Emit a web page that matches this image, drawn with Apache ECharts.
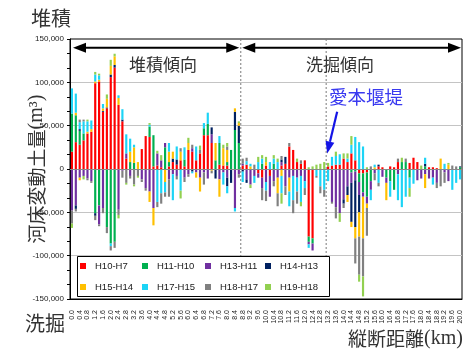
<!DOCTYPE html>
<html>
<head>
<meta charset="utf-8">
<script src="https://cdn.jsdelivr.net/npm/echarts@6/dist/echarts.min.js"></script>
<style>
html,body{margin:0;padding:0;background:#fff}
#chart{width:465px;height:349px}
</style>
</head>
<body>
<div id="chart"></div>
<script>
// 縦断距離 (km), 0.2 km pitch
const distanceKm = ('0.0 0.2 0.4 0.6 0.8 1.0 1.2 1.4 1.6 1.8 2.0 2.2 2.4 2.6 2.8 3.0 3.2 3.4 3.6 3.8 ' +
  '4.0 4.2 4.4 4.6 4.8 5.0 5.2 5.4 5.6 5.8 6.0 6.2 6.4 6.6 6.8 7.0 7.2 7.4 7.6 7.8 ' +
  '8.0 8.2 8.4 8.6 8.8 9.0 9.2 9.4 9.6 9.8 10.0 10.2 10.4 10.6 10.8 11.0 11.2 11.4 11.6 11.8 ' +
  '12.0 12.2 12.4 12.6 12.8 13.0 13.2 13.4 13.6 13.8 14.0 14.2 14.4 14.6 14.8 15.0 15.2 15.4 15.6 15.8 ' +
  '16.0 16.2 16.4 16.6 16.8 17.0 17.2 17.4 17.6 17.8 18.0 18.2 18.4 18.6 18.8 19.0 19.2 19.4 19.6 19.8 20.0').split(' ');

const seriesNames = ['H10-H7', 'H11-H10', 'H13-H11', 'H14-H13', 'H15-H14', 'H17-H15', 'H18-H17', 'H19-H18'];
const seriesColors = ['#ff0000', '#00b050', '#7030a0', '#002060', '#ffc000', '#1cd4f6', '#808080', '#92d050'];

// 河床変動土量 (m3) per period
const h10_h7 = [20000,31000,28000,33000,41000,43000,99000,101000,66000,70000,106000,117000,74000,55000,12000,0,0,0,23000,38000,
  37000,3000,4000,2000,0,3000,8000,5000,10000,3000,22000,20000,10000,18000,39000,39000,30000,0,5000,4000,
  4000,0,0,0,4000,5000,0,0,-5000,-10000,4000,-8000,0,0,4000,6000,26000,22000,8000,6000,
  10000,-78000,-80000,0,0,0,3000,4000,5000,5000,12000,8000,18000,10000,-5000,-5000,-4000,0,0,3000,
  2000,0,3000,2000,8000,0,0,7000,13000,8000,0,0,2000,2000,1000,0,0,0,0,0,0];
const h11_h10 = [44000,31000,16000,8000,0,0,-51000,-42000,0,-67000,-86000,-84000,0,0,0,8000,7000,0,0,0,
  12000,36000,0,0,25000,5000,0,0,0,8000,0,0,0,0,8000,13000,0,10000,25000,0,
  4000,22000,45000,30000,0,0,0,0,0,6000,0,0,6000,0,0,0,0,0,0,0,
  0,-6000,-6000,0,0,0,0,0,0,0,0,0,-4000,-3000,-10000,-22000,-28000,-14000,0,0,
  0,-10000,-14000,-24000,0,8000,8000,-10000,0,0,0,3000,0,0,0,0,0,0,0,0,2000];
const h13_h11 = [-48000,-42000,-10000,-8000,-11000,-14000,0,-22000,-45000,0,0,0,-47000,-2000,6000,-8000,0,0,-12000,-22000,
  -26000,-45000,14000,8000,5000,-12000,-6000,-8000,0,-10000,-6000,4000,-4000,-10000,-4000,-11000,10000,0,-12000,-4000,
  -10000,0,-45000,-6000,2000,-12000,-18000,-8000,-5000,-12000,-15000,-24000,-14000,-10000,4000,-20000,-10000,-8000,-10000,-8000,
  -14000,-3000,-8000,0,0,0,0,-38000,-44000,-51000,-35000,-20000,-12000,-10000,-15000,-5000,-8000,-10000,-5000,0,
  -9000,-6000,0,0,-6000,0,0,0,0,-13000,-11000,-6000,-11000,-10000,-16000,0,-4000,-14000,0,0,0];
const h14_h13 = [0,-4000,2000,0,0,0,-3000,0,1000,1000,3000,3000,0,2000,0,0,0,0,0,0,
  0,0,0,0,0,0,4000,6000,0,0,0,-3000,0,0,0,0,8000,-11000,0,0,
  -10000,-16000,21000,20000,-3000,-4000,0,0,0,0,0,0,0,0,3000,8000,0,0,0,0,
  0,0,0,0,0,0,0,0,0,0,-5000,-10000,-45000,-54000,-20000,0,0,0,0,2000,
  0,0,0,0,0,0,0,0,0,0,0,3000,0,0,0,0,0,0,0,0,1000];
const h15_h14 = [0,3000,-3000,0,2000,3000,2000,2000,3000,10000,10000,10000,8000,0,0,12000,18000,8000,0,0,
  -12000,-20000,0,0,-15000,12000,8000,0,10000,0,8000,0,-6000,-16000,0,0,-2000,20000,-20000,20000,
  14000,0,4000,3000,0,0,3000,0,0,0,4000,0,0,-18000,-8000,0,-16000,0,0,0,
  0,0,0,0,0,0,0,0,0,0,0,-8000,-6000,-13000,-28000,-48000,-5000,0,2000,0,
  0,-20000,0,0,0,0,0,0,0,0,0,-16000,0,0,0,12000,0,5000,0,0,0];
const h17_h15 = [29000,22000,8000,14000,12000,10000,8000,5000,5000,0,-3000,0,3000,12000,22000,15000,3000,0,0,0,
  2000,0,-38000,-28000,-12000,10000,-30000,15000,-25000,14000,0,-2000,16000,0,6000,13000,0,0,8000,-14000,
  -8000,0,-4000,0,-12000,4000,3000,-8000,8000,6000,-10000,8000,6000,8000,-20000,0,-17000,-28000,-16000,-30000,
  -8000,-4000,0,-8000,-20000,-24000,-14000,10000,10000,12000,0,4000,10000,27000,31000,26000,0,-12000,3000,-16000,
  0,0,-18000,0,-30000,-44000,-32000,-12000,-17000,0,0,7000,0,-8000,0,0,6000,0,-24000,-16000,-12000];
const h18_h17 = [-15000,-3000,3000,2000,-2000,-2000,-5000,-2000,-6000,-7000,-5000,-7000,-6000,-8000,-16000,-3000,-18000,-8000,-3000,-3000,
  0,0,-6000,-12000,-5000,-20000,0,-4000,4000,-5000,-3000,4000,0,4000,-14000,0,-3000,0,0,0,
  4000,0,0,-4000,6000,4000,0,5000,0,-14000,-12000,0,-6000,-15000,4000,-10000,4000,-15000,-14000,4000,
  -8000,0,0,-2000,-8000,-8000,0,-2000,-13000,0,-5000,0,0,-29000,-44000,-44000,-32000,3000,-8000,-4000,
  0,0,0,0,4000,0,4000,0,0,0,0,0,0,0,-6000,-20000,-12000,0,4000,3000,0];
const h19_h18 = [-5000,0,0,-4000,2000,0,3000,2000,0,5000,7000,3000,-4000,0,-2000,0,-2000,-2000,0,0,
  2000,0,3000,6000,0,0,0,0,-9000,0,6000,0,0,5000,0,0,0,0,0,4000,
  4000,0,0,2000,0,0,-4000,0,6000,4000,6000,0,4000,4000,-12000,0,0,0,4000,-5000,
  0,2000,3000,5000,6000,8000,4000,0,5000,-10000,6000,6000,10000,0,-8000,-23000,2000,0,0,0,
  0,0,0,0,0,5000,0,-10000,0,0,4000,0,0,0,0,0,0,2000,0,0,0];

const periodValues = [h10_h7, h11_h10, h13_h11, h14_h13, h15_h14, h17_h15, h18_h17, h19_h18];

const yTicks = { min: -150000, max: 150000, interval: 50000 };

const GRID = { left: 70, top: 39, width: 392, height: 260 };
const CJK = '"Noto Sans CJK JP", sans-serif';
const LATIN = '"Liberation Sans", Arial, sans-serif';
const SERIF = '"Liberation Serif", "Times New Roman", serif';

const series = seriesNames.map((name, k) => ({
  name: name,
  type: 'bar',
  stack: 'total',
  barWidth: '56%',
  itemStyle: { color: seriesColors[k] },
  data: periodValues[k],
  animation: false
}));
// zero reference line drawn above the bars
series[series.length - 1].markLine = {
  silent: true,
  symbol: 'none',
  label: { show: false },
  lineStyle: { color: '#8a8a8a', width: 1.2, type: 'solid' },
  data: [{ yAxis: 0 }],
  animation: false
};

// legend: four columns of two rows each, inside one framed box
const legendColumnsLeft = [80, 142, 205, 265];
const legends = legendColumnsLeft.map((left, c) => ({
  orient: 'vertical',
  left: left,
  top: 260,
  padding: 0,
  itemGap: 9,
  itemWidth: 14,
  itemHeight: 6,
  icon: 'path://M0,0H10V10H0Z',
  symbolKeepAspect: true,
  selectedMode: false,
  z: 6,
  data: [seriesNames[c], seriesNames[c + 4]],
  textStyle: { fontSize: 9.5, color: '#1a1a1a', fontFamily: LATIN, lineHeight: 12 }
}));

const option = {
  animation: false,
  backgroundColor: '#fff',
  grid: Object.assign({ show: true, borderColor: '#000', borderWidth: 1, backgroundColor: 'transparent' }, GRID),
  legend: legends,
  xAxis: {
    type: 'category',
    data: distanceKm,
    position: 'bottom',
    axisLine: { onZero: false, lineStyle: { color: '#000' } },
    axisTick: { show: false },
    axisLabel: { interval: 1, rotate: 90, fontSize: 7, margin: 11, color: '#222', fontFamily: LATIN }
  },
  yAxis: {
    type: 'value',
    min: yTicks.min,
    max: yTicks.max,
    interval: yTicks.interval,
    axisLine: { show: true, lineStyle: { color: '#000' } },
    axisTick: { show: true, length: 3, lineStyle: { color: '#000' } },
    minorTick: { show: true, splitNumber: 3, length: 3, lineStyle: { color: '#000' } },
    axisLabel: { fontSize: 8, margin: 6, color: '#222', fontFamily: LATIN },
    splitLine: {
      show: true,
      lineStyle: {
        color: ['rgba(0,0,0,0)', '#c4c4c4', '#c4c4c4', '#8a8a8a', '#c4c4c4', '#c4c4c4', 'rgba(0,0,0,0)'],
        width: 1
      }
    }
  },
  series: series
};

const chart = echarts.init(document.getElementById('chart'));
chart.setOption(option);

// annotations placed from the axes
const px = name => chart.convertToPixel({ xAxisIndex: 0 }, name);
const py = v => chart.convertToPixel({ yAxisIndex: 0 }, v);
const xSplit1 = (px('8.6') + px('8.8')) / 2;
const xSplit2 = (px('13.0') + px('13.2')) / 2;
const yTop = py(yTicks.max);
const yBottom = py(yTicks.min);
const yArrow = py(140000);
const gridRight = GRID.left + GRID.width;

function doubleArrow(xa, xb, y) {
  const head = 13, hw = 5;
  return [
    { type: 'line', z: 7, shape: { x1: xa + head - 1, y1: y, x2: xb - head + 1, y2: y }, style: { stroke: '#000', lineWidth: 2 } },
    { type: 'polygon', z: 7, shape: { points: [[xa, y], [xa + head, y - hw], [xa + head, y + hw]] }, style: { fill: '#000' } },
    { type: 'polygon', z: 7, shape: { points: [[xb, y], [xb - head, y - hw], [xb - head, y + hw]] }, style: { fill: '#000' } }
  ];
}

function pointer(x0, y0, x1, y1, color) {
  const dx = x1 - x0, dy = y1 - y0, len = Math.sqrt(dx * dx + dy * dy);
  const ux = dx / len, uy = dy / len, head = 12, hw = 4.5;
  const bx = x1 - ux * head, by = y1 - uy * head;
  return [
    { type: 'line', z: 7, shape: { x1: x0, y1: y0, x2: bx, y2: by }, style: { stroke: color, lineWidth: 2.2 } },
    { type: 'polygon', z: 7, shape: { points: [[x1, y1], [bx - uy * hw, by + ux * hw], [bx + uy * hw, by - ux * hw]] }, style: { fill: color } }
  ];
}

const dashed = x => ({
  type: 'line', z: 1, silent: true,
  shape: { x1: x, y1: yTop, x2: x, y2: yBottom },
  style: { stroke: '#7a7a7a', lineWidth: 1, lineDash: [2, 2] }
});

const txt = (text, x, y, size, color, align, extra) => Object.assign({
  type: 'text', z: 8, silent: true,
  style: { text: text, x: x, y: y, fontSize: size, fill: color, fontFamily: CJK, align: align || 'center', verticalAlign: 'middle' }
}, extra || {});

const graphics = [
  dashed(xSplit1),
  dashed(xSplit2),
  // legend frame
  { type: 'rect', z: 5, silent: true, shape: { x: 77.5, y: 256.5, width: 252, height: 40 },
    style: { fill: '#fff', stroke: '#000', lineWidth: 1 } }
].concat(
  doubleArrow(GRID.left + 3, xSplit1 - 1.5, yArrow),
  doubleArrow(xSplit1 + 1.5, gridRight - 1, yArrow),
  pointer(xSplit2 + 11, py(66000), xSplit2 + 1, py(18000), '#1414e6'),
  [
    txt('堆積傾向', 163, 65, 17, '#333'),
    txt('洗掘傾向', 340, 65, 17, '#333'),
    txt('愛本堰堤', 366, 97, 18.5, '#3a3af0'),
    txt('堆積', 31, 18, 20, '#333', 'left'),
    txt('洗掘', 25, 323, 20, '#333', 'left'),
    {
      type: 'text', z: 8, silent: true,
      style: {
        text: '{a|縦断距離}{b|(km)}', x: 463, y: 339, align: 'right', verticalAlign: 'middle',
        rich: {
          a: { fontSize: 19, fontFamily: CJK, fill: '#333' },
          b: { fontSize: 20, fontFamily: SERIF, fill: '#333' }
        }
      }
    },
    {
      type: 'text', z: 8, silent: true, x: 37, y: (yTop + yBottom) / 2, rotation: Math.PI / 2,
      style: {
        text: '{a|河床変動土量}{b|(m³)}', x: 0, y: 0, align: 'center', verticalAlign: 'middle',
        rich: {
          a: { fontSize: 19, fontFamily: CJK, fill: '#333' },
          b: { fontSize: 20, fontFamily: SERIF, fill: '#333' }
        }
      }
    }
  ]
);

chart.setOption({ graphic: graphics });
</script>
</body>
</html>
